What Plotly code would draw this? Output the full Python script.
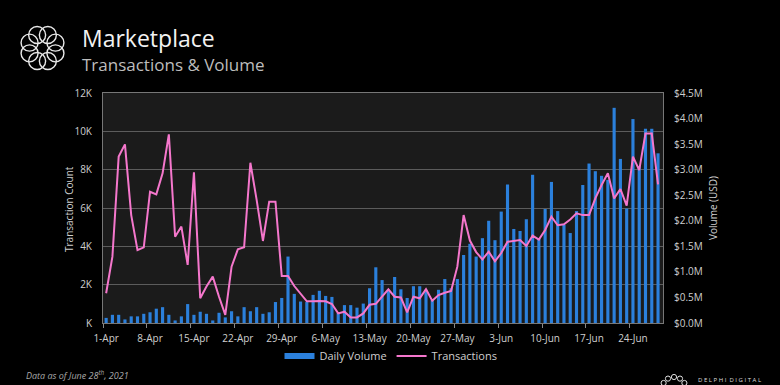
import math
import pandas as pd
import plotly.graph_objects as go

dates = pd.date_range("2021-04-01", "2021-06-28", freq="D")

transactions = [
    # April
    1550, 3460, 8680, 9320, 5630, 3800, 3950, 6850, 6710, 7810,
    9840, 4500, 5030, 3030, 7860, 1290, 1900, 2420, 1370, 420,
    2940, 3840, 3950, 8360, 6420, 4280, 6330, 6330, 2450, 2450,
    # May
    1930, 1550, 1130, 1130, 1150, 1130, 990, 500, 590, 290,
    290, 500, 950, 1000, 1410, 1760, 1370, 1330, 560, 1370,
    1290, 1760, 1160, 1460, 1580, 1670, 2940, 5630, 4300, 3700, 3320,
    # June
    3720, 3220, 3650, 4240, 4290, 4330, 4020, 4560, 4350, 4850,
    5550, 5100, 5150, 5400, 5720, 5630, 5630, 6500, 7200, 7810,
    6500, 6990, 6120, 8680, 7980, 9890, 9890, 7230,
]

volume_musd = [
    # April
    0.10, 0.16, 0.16, 0.07, 0.13, 0.13, 0.18, 0.21, 0.28, 0.31,
    0.16, 0.05, 0.13, 0.37, 0.16, 0.22, 0.18, 0.05, 0.20, 0.11,
    0.23, 0.13, 0.31, 0.23, 0.31, 0.18, 0.21, 0.41, 0.49, 1.30,
    # May
    0.57, 0.42, 0.41, 0.55, 0.63, 0.53, 0.51, 0.20, 0.35, 0.35,
    0.30, 0.38, 0.68, 1.09, 0.84, 0.65, 0.90, 0.66, 0.49, 0.72,
    0.72, 0.65, 0.45, 0.65, 0.86, 0.68, 0.86, 1.33, 1.55, 1.30, 1.66,
    # June
    2.00, 1.62, 2.18, 2.71, 1.84, 1.80, 2.03, 2.90, 1.65, 2.23,
    2.76, 2.19, 1.92, 1.76, 2.19, 2.70, 3.12, 2.97, 2.88, 2.80,
    4.21, 3.21, 2.24, 3.99, 3.07, 3.80, 3.80, 3.32,
]
volume = [v * 1e6 for v in volume_musd]

x_tick_dates = pd.date_range("2021-04-01", "2021-06-24", freq="7D")
x_tick_labels = [f"{d.day}-{d.strftime('%b')}" for d in x_tick_dates]

count_ticks = [0, 2000, 4000, 6000, 8000, 10000, 12000]
count_labels = ["K", "2K", "4K", "6K", "8K", "10K", "12K"]
vol_ticks = [i * 0.5e6 for i in range(10)]
vol_labels = [f"${i*0.5:.1f}M" for i in range(10)]

BLUE = "#2b80dc"
PINK = "#f577cc"
FONT = "Open Sans"
TICKC = "#cfcfcf"

W, H = 780, 385
L, R, T, B = 103, 663, 93, 323


def px(x):
    return (x - L) / (R - L)


def py(y):
    return (B - y) / (B - T)


fig = go.Figure()
fig.add_trace(go.Bar(x=dates, y=volume, name="Daily Volume", marker=dict(color=BLUE, line=dict(width=0)),
                     yaxis="y", showlegend=False))
fig.add_trace(go.Scatter(x=[None], y=[None], mode="lines", name="Daily Volume",
                         line=dict(color=BLUE, width=6), yaxis="y"))
fig.add_trace(go.Scatter(x=dates, y=transactions, name="Transactions", mode="lines",
                         line=dict(color=PINK, width=2), yaxis="y2"))

shapes = []
# main logo: ring of loops
cx, cy = 42.5, 48
for k in range(8):
    a = 2 * math.pi * k / 8 + math.pi / 8
    ox = cx + 14 * math.cos(a)
    oy = cy + 14 * math.sin(a)
    r = 8.5
    shapes.append(dict(type="circle", xref="paper", yref="paper",
                       x0=px(ox - r), x1=px(ox + r), y0=py(oy + r), y1=py(oy - r),
                       line=dict(color="#e8e8e8", width=1.4)))
# footer logo: arc of small circles
fx, fy = 674, 389
for k in range(7):
    a = math.pi + math.pi * k / 6
    ox = fx + 12 * math.cos(a)
    oy = fy + 12 * math.sin(a)
    r = 2.6
    shapes.append(dict(type="circle", xref="paper", yref="paper",
                       x0=px(ox - r), x1=px(ox + r), y0=py(oy + r), y1=py(oy - r),
                       line=dict(color="#dddddd", width=1)))

annotations = [
    dict(text="Marketplace", x=px(80), y=py(38), xref="paper", yref="paper", xanchor="left",
         yanchor="middle", showarrow=False, font=dict(family=FONT, size=23, color="#f2f2f2")),
    dict(text="Transactions &amp; Volume", x=px(80), y=py(64), xref="paper", yref="paper", xanchor="left",
         yanchor="middle", showarrow=False, font=dict(family=FONT, size=17, color="#bdbdbd")),
    dict(text="Transaction Count", x=px(69), y=py(209), xref="paper", yref="paper", textangle=-90,
         xanchor="center", yanchor="middle",
         showarrow=False, font=dict(family=FONT, size=10, color=TICKC)),
    dict(text="Volume (USD)", x=px(713), y=py(208), xref="paper", yref="paper", textangle=-90,
         xanchor="center", yanchor="middle",
         showarrow=False, font=dict(family=FONT, size=10, color=TICKC)),
    dict(text="<i>Data as of June 28<sup>th</sup>, 2021</i>", x=px(24), y=py(375), xref="paper", yref="paper",
         xanchor="left", yanchor="middle", showarrow=False, font=dict(family=FONT, size=9, color="#a8a8a8")),
    dict(text="D E L P H I  D I G I T A L", x=px(696), y=py(380), xref="paper", yref="paper",
         xanchor="left", yanchor="middle", showarrow=False, font=dict(family=FONT, size=6, color="#dddddd")),
]

fig.update_layout(
    width=W, height=H,
    margin=dict(l=L, r=W - R, t=T, b=H - B, pad=0),
    paper_bgcolor="#000000",
    plot_bgcolor="#1b1b1b",
    bargap=0.5,
    font=dict(family=FONT, color=TICKC, size=10),
    xaxis=dict(
        type="date",
        range=["2021-03-31 12:00", "2021-06-28 19:00"],
        tickmode="array", tickvals=x_tick_dates, ticktext=x_tick_labels,
        ticks="", showgrid=False, showline=True, linecolor="#777777", linewidth=1, mirror=True,
        tickfont=dict(family=FONT, size=10, color=TICKC), ticklabelstandoff=6,
        minor=dict(ticks="outside", ticklen=4, tickcolor="#888888",
                   tick0="2021-03-31 12:00", dtick=7 * 86400000, showgrid=False),
    ),
    yaxis=dict(
        side="right", range=[0, 4.5e6], tickmode="array", tickvals=vol_ticks, ticktext=vol_labels,
        showgrid=False, zeroline=False, showline=True, linecolor="#777777", linewidth=1,
        tickfont=dict(family=FONT, size=10, color=TICKC), ticklabelstandoff=8,
    ),
    yaxis2=dict(
        side="left", overlaying="y", range=[0, 12000], tickmode="array", tickvals=count_ticks,
        ticktext=count_labels, showgrid=True, gridcolor="#5c5c5c", gridwidth=1, zeroline=False,
        showline=True, linecolor="#777777", linewidth=1,
        tickfont=dict(family=FONT, size=10, color=TICKC), ticklabelstandoff=8,
    ),
    legend=dict(orientation="h", x=px(391), y=py(356), xanchor="center", yanchor="middle",
                bgcolor="rgba(0,0,0,0)", font=dict(family=FONT, size=11, color=TICKC),
                itemwidth=30, tracegroupgap=0),
    shapes=shapes,
    annotations=annotations,
    showlegend=True,
)

fig.write_html(
    "out.html",
    config={"displayModeBar": False},
    post_script="document.body.style.margin='0';document.body.style.padding='0';"
                "document.body.style.background='#000';document.body.style.overflow='hidden';",
)
